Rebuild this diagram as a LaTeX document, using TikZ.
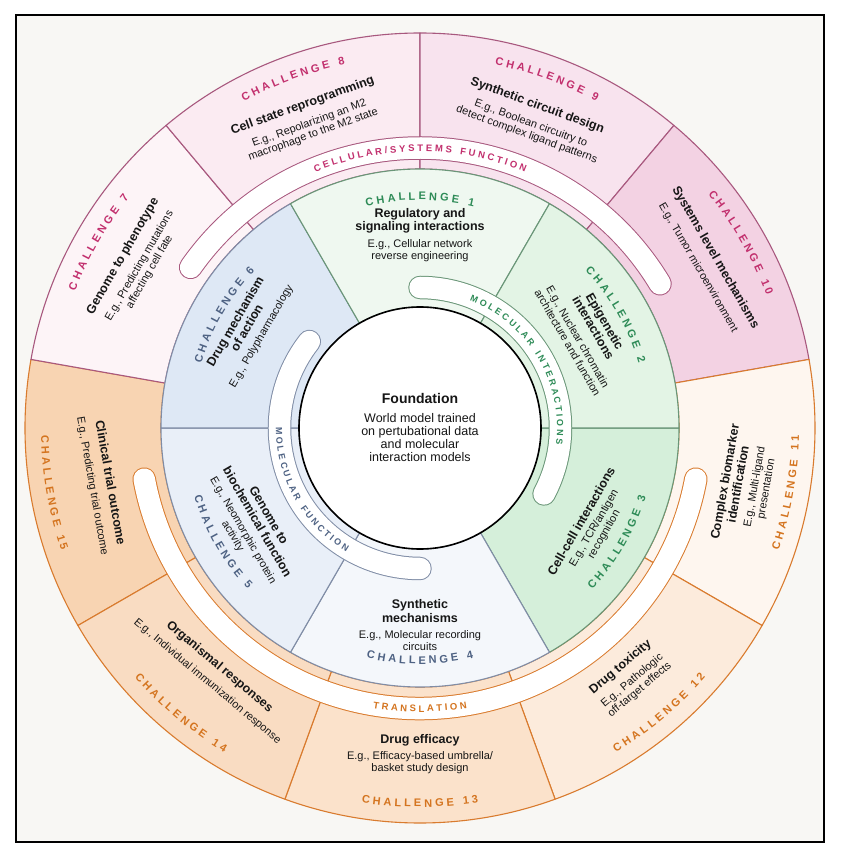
\documentclass[tikz,border=0pt]{standalone}
\usepackage{fontspec}
\setmainfont{Liberation Sans}
\usepackage{xcolor}
\usepackage{tikz}
\usetikzlibrary{decorations.text}
\definecolor{fondo}{RGB}{248,247,244}
\definecolor{tinta}{RGB}{22,22,22}
\definecolor{rosa}{RGB}{194,48,110}
\definecolor{rosalinea}{RGB}{168,88,126}
\definecolor{rosa7}{RGB}{253,244,247}
\definecolor{rosa8}{RGB}{251,235,242}
\definecolor{rosa9}{RGB}{248,227,238}
\definecolor{rosa10}{RGB}{243,210,227}
\definecolor{naranja}{RGB}{212,116,31}
\definecolor{naranjalinea}{RGB}{217,123,46}
\definecolor{nar11}{RGB}{254,246,239}
\definecolor{nar12}{RGB}{252,235,220}
\definecolor{nar13}{RGB}{251,226,203}
\definecolor{nar14}{RGB}{249,220,194}
\definecolor{nar15}{RGB}{248,212,178}
\definecolor{verde}{RGB}{46,139,87}
\definecolor{verdelinea}{RGB}{106,150,120}
\definecolor{verde1}{RGB}{239,248,240}
\definecolor{verde2}{RGB}{227,244,229}
\definecolor{verde3}{RGB}{213,239,218}
\definecolor{azul}{RGB}{78,98,131}
\definecolor{azullinea}{RGB}{128,141,166}
\definecolor{azul4}{RGB}{244,247,251}
\definecolor{azul5}{RGB}{233,239,248}
\definecolor{azul6}{RGB}{222,232,245}
% sector de anillo: inicio, fin, radio int, radio ext, relleno, borde
\newcommand{\ringpart}[6]{%
  \filldraw[fill=#5, draw=#6, line width=1.1pt, line join=round]
    (#1:#3pt) arc[start angle=#1, end angle=#2, radius=#3pt]
    -- (#2:#4pt) arc[start angle=#2, end angle=#1, radius=#4pt] -- cycle;}
\newcommand{\chfont}{\bfseries\fontsize{11}{11}\selectfont}

\begin{document}
\begin{tikzpicture}[
    tit/.style={font=\bfseries\fontsize{12.5}{13.3}\selectfont, align=center, inner sep=0pt, text=tinta},
    ej/.style={font=\fontsize{11}{11.8}\selectfont, align=center, inner sep=0pt, text=tinta},
    chal/.style 2 args={decorate, decoration={text along path, text align=center, text color=#1, text={|\chfont|#2}}},
    banda/.style n args={3}{decorate, decoration={text along path, text align=center, text color=#1, text={|\bfseries\fontsize{#2}{#2}\selectfont|#3}}}
  ]
  \useasboundingbox (-420pt,-423pt) rectangle (423pt,428pt);
  \fill[white] (-420pt,-423pt) rectangle (423pt,428pt);
  \draw[line width=2.2pt, fill=fondo] (-404pt,-414pt) rectangle (404pt,413pt);
  % anillo exterior
  \ringpart{-190}{-150}{259}{395}{nar15}{naranjalinea}
  \ringpart{130}{170}{259}{395}{rosa7}{rosalinea}
  \ringpart{90}{130}{259}{395}{rosa8}{rosalinea}
  \ringpart{50}{90}{259}{395}{rosa9}{rosalinea}
  \ringpart{10}{50}{259}{395}{rosa10}{rosalinea}
  \ringpart{-30}{10}{259}{395}{nar11}{naranjalinea}
  \ringpart{-70}{-30}{259}{395}{nar12}{naranjalinea}
  \ringpart{-110}{-70}{259}{395}{nar13}{naranjalinea}
  \ringpart{-150}{-110}{259}{395}{nar14}{naranjalinea}
  % anillo medio
  \ringpart{-60}{0}{121}{259}{verde3}{verdelinea}
  \ringpart{-120}{-60}{121}{259}{azul4}{azullinea}
  \ringpart{180}{240}{121}{259}{azul5}{azullinea}
  \ringpart{120}{180}{121}{259}{azul6}{azullinea}
  \ringpart{60}{120}{121}{259}{verde1}{verdelinea}
  \ringpart{0}{60}{121}{259}{verde2}{verdelinea}
  % bandas blancas
  \draw[rosalinea, line width=23.5pt, line cap=round] (145:280pt) arc[start angle=145, end angle=31, radius=280pt];
  \draw[white, line width=21.5pt, line cap=round] (145:280pt) arc[start angle=145, end angle=31, radius=280pt];
  \draw[naranjalinea, line width=23.5pt, line cap=round] (-169.5:280.5pt) arc[start angle=-169.5, end angle=-10.5, radius=280.5pt];
  \draw[white, line width=21.5pt, line cap=round] (-169.5:280.5pt) arc[start angle=-169.5, end angle=-10.5, radius=280.5pt];
  \draw[verdelinea, line width=23.5pt, line cap=round] (90:140.5pt) arc[start angle=90, end angle=-28, radius=140.5pt];
  \draw[white, line width=21.5pt, line cap=round] (90:140.5pt) arc[start angle=90, end angle=-28, radius=140.5pt];
  \draw[azullinea, line width=23.5pt, line cap=round] (142:140.5pt) arc[start angle=142, end angle=270, radius=140.5pt];
  \draw[white, line width=21.5pt, line cap=round] (142:140.5pt) arc[start angle=142, end angle=270, radius=140.5pt];
  \path[banda={rosa}{9.5}{C E L L U L A R / S Y S T E M S {\kern3pt} F U N C T I O N}] (150:276.5pt) arc[start angle=150, end angle=30, radius=276.5pt];
  \path[banda={naranja}{9.5}{T R A N S L A T I O N}] (-170:284pt) arc[start angle=-170, end angle=-10, radius=284pt];
  \path[banda={verde}{9}{M O L E C U L A R {\kern3pt} I N T E R A C T I O N S}] (90:137pt) arc[start angle=90, end angle=-28, radius=137pt];
  \path[banda={azul}{9}{M O L E C U L A R {\kern3pt} F U N C T I O N}] (149:144pt) arc[start angle=149, end angle=270, radius=144pt];
  % base
  \node[circle, draw=black, line width=1.6pt, fill=white, minimum size=242pt, inner sep=0pt] (base) at (0,0) {};
  \node[font=\bfseries\fontsize{14}{16}\selectfont, text=tinta, inner sep=0pt] (basetit) at (0,30pt) {Foundation};
  \node[font=\fontsize{12.5}{13}\selectfont, align=center, text=tinta, inner sep=0pt] (basetxt) at (0,-9.5pt) {World model trained\\on pertubational data\\and molecular\\interaction models};
  % retos exteriores
  \path[chal={rosa}{C H A L L E N G E {\kern3pt} 7}] (170:371pt) arc[start angle=170, end angle=130, radius=371pt];
  \path[chal={rosa}{C H A L L E N G E {\kern3pt} 8}] (130:371pt) arc[start angle=130, end angle=90, radius=371pt];
  \path[chal={rosa}{C H A L L E N G E {\kern3pt} 9}] (90:371pt) arc[start angle=90, end angle=50, radius=371pt];
  \path[chal={rosa}{C H A L L E N G E {\kern3pt} 1 0}] (50:371pt) arc[start angle=50, end angle=10, radius=371pt];
  \path[chal={naranja}{C H A L L E N G E {\kern3pt} 1 1}] (-30:379pt) arc[start angle=-30, end angle=10, radius=379pt];
  \path[chal={naranja}{C H A L L E N G E {\kern3pt} 1 2}] (-70:379pt) arc[start angle=-70, end angle=-30, radius=379pt];
  \path[chal={naranja}{C H A L L E N G E {\kern3pt} 1 3}] (-110:379pt) arc[start angle=-110, end angle=-70, radius=379pt];
  \path[chal={naranja}{C H A L L E N G E {\kern3pt} 1 4}] (-150:379pt) arc[start angle=-150, end angle=-110, radius=379pt];
  \path[chal={naranja}{C H A L L E N G E {\kern3pt} 1 5}] (170:379pt) arc[start angle=170, end angle=210, radius=379pt];
  \node[tit, rotate=60] (tit7) at (150:343pt) {Genome to phenotype};
  \node[ej, rotate=60] (ej7) at (150:318pt) {E.g., Predicting mutations\\affecting cell fate};
  \node[tit, rotate=20] (tit8) at (110:343pt) {Cell state reprogramming};
  \node[ej, rotate=20] (ej8) at (110:318pt) {E.g., Repolarizing an M2\\macrophage to the M2 state};
  \node[tit, rotate=-20] (tit9) at (70:343pt) {Synthetic circuit design};
  \node[ej, rotate=-20] (ej9) at (70:318pt) {E.g., Boolean circuitry to\\detect complex ligand patterns};
  \node[tit, rotate=-60] (tit10) at (30:341pt) {Systems level mechanisms};
  \node[ej, rotate=-60] (ej10) at (30:321pt) {E.g., Tumor microenvironment};
  \node[tit, rotate=80] (tit11) at (-10:316pt) {Complex biomarker\\identification};
  \node[ej, rotate=80] (ej11) at (-10:346pt) {E.g., Multi-ligand\\presentation};
  \node[tit, rotate=40] (tit12) at (-50:312pt) {Drug toxicity};
  \node[ej, rotate=40] (ej12) at (-50:336pt) {E.g., Pathologic\\off-target effects};
  \node[tit] (tit13) at (-90:312pt) {Drug efficacy};
  \node[ej] (ej13) at (-90:335pt) {E.g., Efficacy-based umbrella/\\basket study design};
  \node[tit, rotate=-40] (tit14) at (-130:312pt) {Organismal responses};
  \node[ej, rotate=-40] (ej14) at (-130:331pt) {E.g., Individual immunization response};
  \node[tit, rotate=-80] (tit15) at (-170:314pt) {Clinical trial outcome};
  \node[ej, rotate=-80] (ej15) at (-170:333pt) {E.g., Predicting trial outcome};
  % retos del anillo medio
  \path[chal={verde}{C H A L L E N G E {\kern3pt} 1}] (120:228pt) arc[start angle=120, end angle=60, radius=228pt];
  \path[chal={verde}{C H A L L E N G E {\kern3pt} 2}] (60:228pt) arc[start angle=60, end angle=0, radius=228pt];
  \path[chal={verde}{C H A L L E N G E {\kern3pt} 3}] (-60:236pt) arc[start angle=-60, end angle=0, radius=236pt];
  \path[chal={azul}{C H A L L E N G E {\kern3pt} 4}] (-120:236pt) arc[start angle=-120, end angle=-60, radius=236pt];
  \path[chal={azul}{C H A L L E N G E {\kern3pt} 5}] (180:236pt) arc[start angle=180, end angle=240, radius=236pt];
  \path[chal={azul}{C H A L L E N G E {\kern3pt} 6}] (180:228pt) arc[start angle=180, end angle=120, radius=228pt];
  \node[tit] (tit1) at (90:207pt) {Regulatory and\\signaling interactions};
  \node[ej] (ej1) at (90:177pt) {E.g., Cellular network\\reverse engineering};
  \node[tit, rotate=-60] (tit2) at (30:207pt) {Epigenetic\\interactions};
  \node[ej, rotate=-60] (ej2) at (30:176.5pt) {E.g., Nuclear chromatin\\architecture and function};
  \node[tit, rotate=60] (tit3) at (-30:186pt) {Cell-cell interactions};
  \node[ej, rotate=60] (ej3) at (-30:207pt) {E.g., TCR/antigen\\recognition};
  \node[tit] (tit4) at (-90:183pt) {Synthetic\\mechanisms};
  \node[ej] (ej4) at (-90:212.5pt) {E.g., Molecular recording\\circuits};
  \node[tit, rotate=-60] (tit5) at (-150:181pt) {Genome to\\biochemical function};
  \node[ej, rotate=-60] (ej5) at (-150:210.5pt) {E.g., Neomorphic protein\\activity};
  \node[tit, rotate=60] (tit6) at (150:207pt) {Drug mechanism\\of action};
  \node[ej, rotate=60] (ej6) at (150:183pt) {E.g., Polypharmacology};
\end{tikzpicture}
\end{document}
